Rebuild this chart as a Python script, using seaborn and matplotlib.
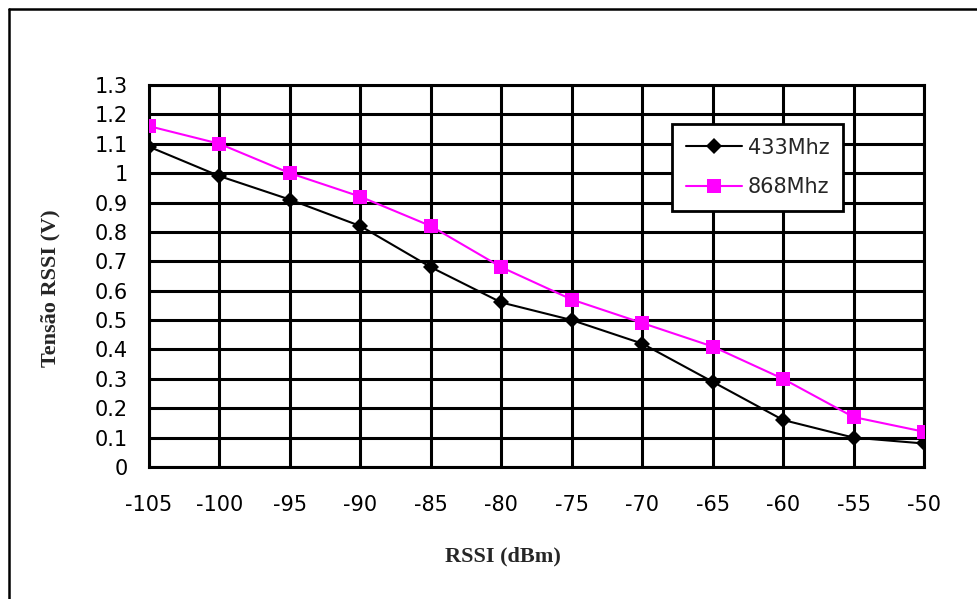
import matplotlib
matplotlib.use("Agg")
import matplotlib.pyplot as plt
from matplotlib.lines import Line2D
from matplotlib.ticker import FuncFormatter
import pandas as pd
import seaborn as sns

# RSSI sweep (dBm) and measured RSSI output voltage (V)
rssi_dbm = [-105, -100, -95, -90, -85, -80, -75, -70, -65, -60, -55, -50]
v_433 = [1.09, 0.99, 0.91, 0.82, 0.68, 0.56, 0.50, 0.42, 0.29, 0.16, 0.10, 0.08]
v_868 = [1.16, 1.10, 1.00, 0.92, 0.82, 0.68, 0.57, 0.49, 0.41, 0.30, 0.17, 0.12]
series_names = ["433Mhz", "868Mhz"]
y_ticks = [0, 0.1, 0.2, 0.3, 0.4, 0.5, 0.6, 0.7, 0.8, 0.9, 1.0, 1.1, 1.2, 1.3]

sns.set_theme(style="white")
plt.rcParams["font.family"] = ["DejaVu Sans"]
plt.rcParams["axes.unicode_minus"] = False

df = pd.DataFrame({
    "rssi": rssi_dbm * 2,
    "v": v_433 + v_868,
    "band": [series_names[0]] * len(rssi_dbm) + [series_names[1]] * len(rssi_dbm),
})

fig = plt.figure(figsize=(9.78, 5.99), dpi=100)
ax = fig.add_axes([149 / 978, 1 - 467 / 599, (924 - 149) / 978, (467 - 85) / 599])

grid_lw = 2.2
sns.lineplot(data=df[df.band == series_names[0]], x="rssi", y="v", ax=ax,
             color="black", marker="D", markersize=8.5, markeredgewidth=0,
             linewidth=1.5, label=series_names[0], zorder=4)
sns.lineplot(data=df[df.band == series_names[1]], x="rssi", y="v", ax=ax,
             color="#FF00FF", marker="s", markersize=9.5, markeredgewidth=0,
             linewidth=1.5, label=series_names[1], zorder=5)

ax.set_xlim(rssi_dbm[0], rssi_dbm[-1])
ax.set_ylim(0, 1.3)
ax.set_xticks(rssi_dbm)
ax.set_yticks(y_ticks)
ax.yaxis.set_major_formatter(FuncFormatter(lambda v, p: f"{v:g}"))
ax.grid(True, color="black", linewidth=grid_lw)
ax.set_axisbelow(True)
for s in ax.spines.values():
    s.set_color("black")
    s.set_linewidth(grid_lw)
ax.tick_params(axis="both", direction="out", length=8.5, width=grid_lw,
               color="black", labelsize=15, labelcolor="black")
ax.tick_params(axis="x", pad=12)
ax.tick_params(axis="y", pad=7)
ax.set_xlabel("")
ax.set_ylabel("")

fig.text(503 / 978, 1 - 556 / 599, "RSSI (dBm)", ha="center", va="center",
         family="Liberation Serif", fontweight="bold", fontsize=16)
fig.text(50 / 978, 1 - 288 / 599, "Tensão RSSI (V)", ha="center", va="center",
         rotation=90, family="Liberation Serif", fontweight="bold", fontsize=16)

leg = ax.legend(loc="upper left", bbox_to_anchor=((672 - 149) / 775, (467 - 124) / 382),
                frameon=True, fancybox=False, fontsize=15, handlelength=2.7,
                borderpad=0.65, labelspacing=0.95, handletextpad=0.3, borderaxespad=0)
leg.get_frame().set_edgecolor("black")
leg.get_frame().set_linewidth(2.0)
leg.get_frame().set_facecolor("white")
leg.get_frame().set_alpha(1)

# chart frame (top and left edges)
fig.add_artist(Line2D([9 / 978, 9 / 978], [0, 1 - 9 / 599], transform=fig.transFigure,
                      color="black", linewidth=1.8))
fig.add_artist(Line2D([9 / 978, 1], [1 - 9 / 599, 1 - 9 / 599], transform=fig.transFigure,
                      color="black", linewidth=1.8))

fig.savefig("out.png", dpi=100, facecolor="white")
